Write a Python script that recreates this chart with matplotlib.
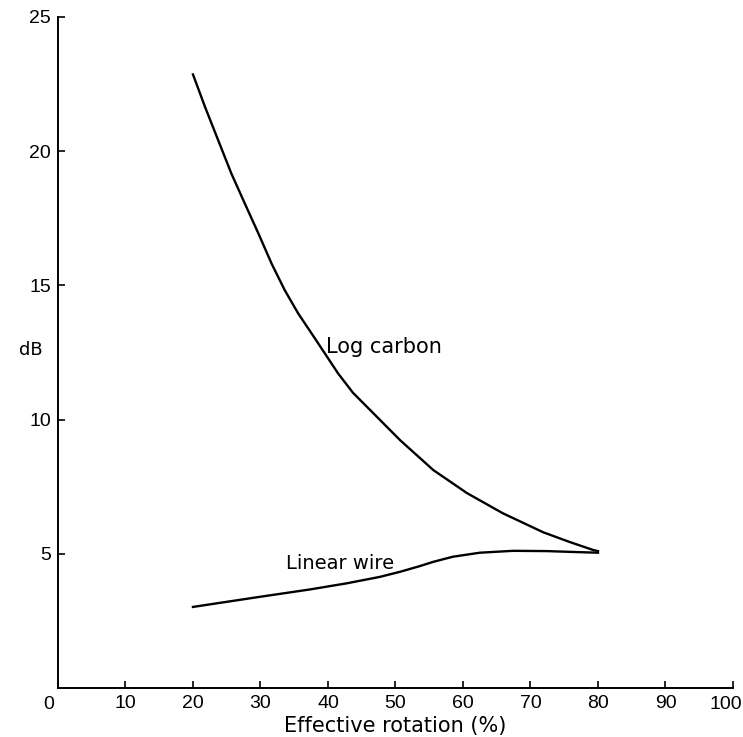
import matplotlib.pyplot as plt

# Values
log_x = [20, 21.8, 23.75, 25.7, 27.7, 29.7, 31.65, 33.6, 35.6, 37.6, 39.55,
         41.5, 43.7, 47.3, 50.7, 55.6, 60.6, 65.9, 71.9, 75.8, 79.3, 80]
log_db = [22.86, 21.64, 20.4, 19.16, 18.04, 16.93, 15.81, 14.82, 13.95, 13.2,
          12.46, 11.72, 11.0, 10.09, 9.23, 8.12, 7.26, 6.51, 5.8, 5.44, 5.14, 5.1]

lin_x = [20, 30, 37.3, 42.8, 47.7, 50.7, 53.6, 55.6, 58.5, 62.5, 67.4, 72.4,
         77.3, 80]
lin_db = [3.02, 3.4, 3.67, 3.9, 4.14, 4.33, 4.54, 4.70, 4.89, 5.04, 5.11, 5.10,
          5.06, 5.04]

x_ticks = [0, 10, 20, 30, 40, 50, 60, 70, 80, 90, 100]
x_labels = ["0", "10", "20", "30", "40", "50", "60", "70", "80", "90", "100"]
y_ticks = [5, 10, 15, 20, 25]

tick_font = "Liberation Sans"
tick_size = 14

fig = plt.figure(figsize=(7.43, 7.37), dpi=100)
ax = fig.add_axes([0.078, 0.0665, 0.9085, 0.9105])

ax.plot(log_x, log_db, color="black", linewidth=1.7)
ax.plot(lin_x, lin_db, color="black", linewidth=1.7)

ax.text(39.7, 12.7, "Log carbon", fontsize=15, va="center", ha="left")
ax.text(33.8, 4.65, "Linear wire", fontsize=14, va="center", ha="left")

ax.set_xlim(0, 100)
ax.set_ylim(0, 25)
ax.set_xticks(x_ticks)
# end labels are placed by hand below so "100" stays inside the figure
ax.set_xticklabels([""] + x_labels[1:-1] + [""], family=tick_font, fontsize=tick_size)
ax.set_yticks(y_ticks)
ax.set_yticklabels([str(v) for v in y_ticks], family=tick_font, fontsize=tick_size)
ax.tick_params(direction="in", length=5, width=1.2, pad=5)

ax.annotate(x_labels[0], (x_ticks[0], 0), xytext=(-7, -12), textcoords="offset points",
            ha="center", va="center", family=tick_font, fontsize=tick_size,
            annotation_clip=False)
ax.annotate(x_labels[-1], (x_ticks[-1], 0), xytext=(-5, -12), textcoords="offset points",
            ha="center", va="center", family=tick_font, fontsize=tick_size,
            annotation_clip=False)

ax.spines["top"].set_visible(False)
ax.spines["right"].set_visible(False)
ax.spines["left"].set_linewidth(1.4)
ax.spines["bottom"].set_linewidth(1.4)

ax.set_xlabel("Effective rotation (%)", fontsize=15, labelpad=3)
ax.set_ylabel("dB", fontsize=13, rotation=0)
ax.yaxis.set_label_coords(-0.04, 0.49)

fig.savefig("out.png", dpi=100)
